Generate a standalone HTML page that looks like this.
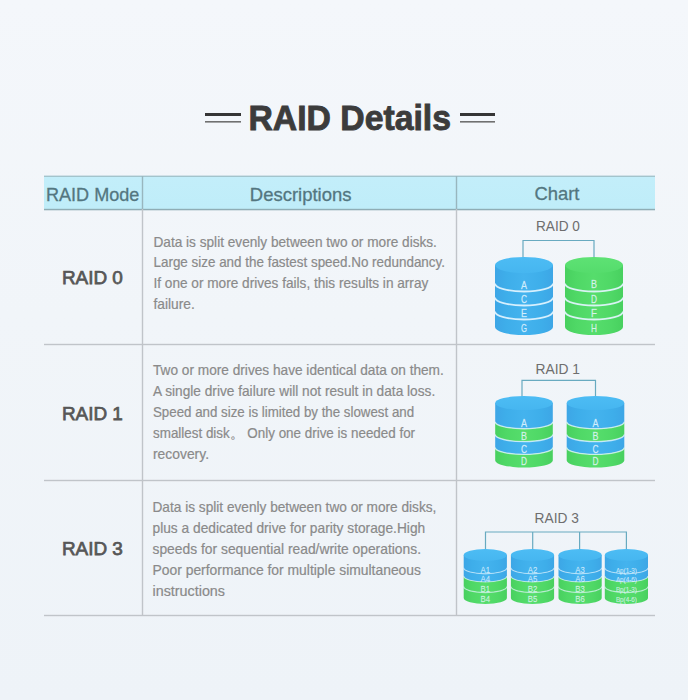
<!DOCTYPE html>
<html><head><meta charset="utf-8"><style>
html,body{margin:0;padding:0;width:700px;height:700px;overflow:hidden;background:#f1f5f9}
svg{display:block;font-family:"Liberation Sans", sans-serif}
</style></head><body>
<svg width="700" height="700" viewBox="0 0 700 700"><defs><linearGradient id="bg" x1="0" y1="0" x2="0" y2="1"><stop offset="0" stop-color="#f4f7fb"/><stop offset="0.45" stop-color="#f1f5f9"/><stop offset="1" stop-color="#eef3f8"/></linearGradient><linearGradient id="hdr" x1="0" y1="0" x2="0" y2="1"><stop offset="0" stop-color="#c3eefa"/><stop offset="1" stop-color="#bfedf9"/></linearGradient><linearGradient id="blueSide" x1="0" y1="0" x2="1" y2="0"><stop offset="0" stop-color="#3da6e6"/><stop offset="0.2" stop-color="#3eaeea"/><stop offset="0.5" stop-color="#44b3ee"/><stop offset="0.8" stop-color="#3eaeea"/><stop offset="1" stop-color="#3da6e6"/></linearGradient><linearGradient id="greenSide" x1="0" y1="0" x2="1" y2="0"><stop offset="0" stop-color="#48d05f"/><stop offset="0.2" stop-color="#4fd866"/><stop offset="0.5" stop-color="#56dd6c"/><stop offset="0.8" stop-color="#4fd866"/><stop offset="1" stop-color="#48d05f"/></linearGradient><linearGradient id="blueTop" x1="0" y1="0" x2="0" y2="1"><stop offset="0" stop-color="#4dbcf4"/><stop offset="1" stop-color="#46b6f0"/></linearGradient><linearGradient id="greenTop" x1="0" y1="0" x2="0" y2="1"><stop offset="0" stop-color="#5ee274"/><stop offset="1" stop-color="#55dc6c"/></linearGradient></defs><rect x="0" y="0" width="700" height="700" fill="url(#bg)"/><rect x="688" y="0" width="12" height="700" fill="#ffffff"/><rect x="205" y="113" width="36" height="3" fill="#363636"/><rect x="205" y="121" width="36" height="1.6" fill="#707070"/><rect x="460" y="113" width="35" height="3" fill="#363636"/><rect x="460" y="121" width="35" height="1.6" fill="#707070"/><text x="248.5" y="129.6" font-size="35" fill="#3c3c3c" font-weight="bold" text-anchor="start" textLength="202.5" lengthAdjust="spacingAndGlyphs" stroke="#3c3c3c" stroke-width="0.9">RAID Details</text><rect x="44" y="176" width="611" height="34" fill="url(#hdr)"/><rect x="44" y="175.6" width="611" height="1.4" fill="#a3c4cc"/><rect x="44" y="208.8" width="611" height="1.5" fill="#8fadb5"/><text x="46" y="200.7" font-size="19" fill="#537680" font-weight="normal" text-anchor="start" textLength="93.4" lengthAdjust="spacingAndGlyphs" stroke="#537680" stroke-width="0.3">RAID Mode</text><text x="249.8" y="200.6" font-size="19" fill="#537680" font-weight="normal" text-anchor="start" textLength="101.7" lengthAdjust="spacingAndGlyphs" stroke="#537680" stroke-width="0.3">Descriptions</text><text x="534.4" y="199.8" font-size="19" fill="#537680" font-weight="normal" text-anchor="start" textLength="45" lengthAdjust="spacingAndGlyphs" stroke="#537680" stroke-width="0.3">Chart</text><rect x="141.8" y="209" width="1.4" height="407" fill="#c0c4c9"/><rect x="455.8" y="209" width="1.4" height="407" fill="#c0c4c9"/><rect x="141.8" y="176" width="1.4" height="33" fill="#98b6be"/><rect x="455.8" y="176" width="1.4" height="33" fill="#98b6be"/><rect x="44" y="343.8" width="611" height="1.4" fill="#c0c4c9"/><rect x="44" y="479.8" width="611" height="1.4" fill="#c0c4c9"/><rect x="44" y="614.8" width="611" height="1.4" fill="#c0c4c9"/><text x="61.9" y="284.40000000000003" font-size="19.2" fill="#575757" font-weight="normal" text-anchor="start" textLength="61" lengthAdjust="spacingAndGlyphs" stroke="#575757" stroke-width="0.75">RAID 0</text><text x="61.9" y="419.6" font-size="19.2" fill="#575757" font-weight="normal" text-anchor="start" textLength="61" lengthAdjust="spacingAndGlyphs" stroke="#575757" stroke-width="0.75">RAID 1</text><text x="61.9" y="554.5999999999999" font-size="19.2" fill="#575757" font-weight="normal" text-anchor="start" textLength="61" lengthAdjust="spacingAndGlyphs" stroke="#575757" stroke-width="0.75">RAID 3</text><text x="153.5" y="246.7" font-size="14.5" fill="#8a8a8a" font-weight="normal" text-anchor="start" textLength="283.4" lengthAdjust="spacingAndGlyphs" stroke="#8a8a8a" stroke-width="0.2">Data is split evenly between two or more disks.</text><text x="153.5" y="267.3" font-size="14.5" fill="#8a8a8a" font-weight="normal" text-anchor="start" textLength="291.5" lengthAdjust="spacingAndGlyphs" stroke="#8a8a8a" stroke-width="0.2">Large size and the fastest speed.No redundancy.</text><text x="153.5" y="287.9" font-size="14.5" fill="#8a8a8a" font-weight="normal" text-anchor="start" textLength="274.8" lengthAdjust="spacingAndGlyphs" stroke="#8a8a8a" stroke-width="0.2">If one or more drives fails, this results in array</text><text x="153.5" y="309.1" font-size="14.5" fill="#8a8a8a" font-weight="normal" text-anchor="start" textLength="41.3" lengthAdjust="spacingAndGlyphs" stroke="#8a8a8a" stroke-width="0.2">failure.</text><text x="153" y="375.1" font-size="14.5" fill="#8a8a8a" font-weight="normal" text-anchor="start" textLength="290.8" lengthAdjust="spacingAndGlyphs" stroke="#8a8a8a" stroke-width="0.2">Two or more drives have identical data on them.</text><text x="153" y="396.1" font-size="14.5" fill="#8a8a8a" font-weight="normal" text-anchor="start" textLength="282.2" lengthAdjust="spacingAndGlyphs" stroke="#8a8a8a" stroke-width="0.2">A single drive failure will not result in data loss.</text><text x="153" y="417.2" font-size="14.5" fill="#8a8a8a" font-weight="normal" text-anchor="start" textLength="261.1" lengthAdjust="spacingAndGlyphs" stroke="#8a8a8a" stroke-width="0.2">Speed and size is limited by the slowest and</text><text x="153" y="437.7" font-size="14.5" fill="#8a8a8a" font-weight="normal" text-anchor="start" textLength="262.1" lengthAdjust="spacingAndGlyphs" stroke="#8a8a8a" stroke-width="0.2">smallest disk。 Only one drive is needed for</text><text x="153" y="459.0" font-size="14.5" fill="#8a8a8a" font-weight="normal" text-anchor="start" textLength="56" lengthAdjust="spacingAndGlyphs" stroke="#8a8a8a" stroke-width="0.2">recovery.</text><text x="152.5" y="512.4" font-size="14.5" fill="#8a8a8a" font-weight="normal" text-anchor="start" textLength="283.9" lengthAdjust="spacingAndGlyphs" stroke="#8a8a8a" stroke-width="0.2">Data is split evenly between two or more disks,</text><text x="152.5" y="533.0" font-size="14.5" fill="#8a8a8a" font-weight="normal" text-anchor="start" textLength="272.7" lengthAdjust="spacingAndGlyphs" stroke="#8a8a8a" stroke-width="0.2">plus a dedicated drive for parity storage.High</text><text x="152.5" y="553.5" font-size="14.5" fill="#8a8a8a" font-weight="normal" text-anchor="start" textLength="268.5" lengthAdjust="spacingAndGlyphs" stroke="#8a8a8a" stroke-width="0.2">speeds for sequential read/write operations.</text><text x="152.5" y="574.6" font-size="14.5" fill="#8a8a8a" font-weight="normal" text-anchor="start" textLength="268.5" lengthAdjust="spacingAndGlyphs" stroke="#8a8a8a" stroke-width="0.2">Poor performance for multiple simultaneous</text><text x="152.5" y="595.6" font-size="14.5" fill="#8a8a8a" font-weight="normal" text-anchor="start" textLength="72.5" lengthAdjust="spacingAndGlyphs" stroke="#8a8a8a" stroke-width="0.2">instructions</text><text x="536" y="231.3" font-size="14.5" fill="#6e6e6e" font-weight="normal" text-anchor="start" textLength="43.9" lengthAdjust="spacingAndGlyphs">RAID 0</text><text x="535.5" y="374" font-size="14.5" fill="#6e6e6e" font-weight="normal" text-anchor="start" textLength="44.5" lengthAdjust="spacingAndGlyphs">RAID 1</text><text x="534.6" y="522.9" font-size="14.5" fill="#6e6e6e" font-weight="normal" text-anchor="start" textLength="44.3" lengthAdjust="spacingAndGlyphs">RAID 3</text><path d="M523 262 V240.5 H594 V262" fill="none" stroke="#68aac0" stroke-width="1.2"/><path d="M495 265 L495 283.5 A29 8 0 0 0 553 283.5 L553 265 Z" fill="url(#blueSide)"/><path d="M495 283.5 A29 8 0 0 0 553 283.5 L553 297.5 A29 8 0 0 1 495 297.5 Z" fill="url(#blueSide)"/><path d="M495 297.5 A29 8 0 0 0 553 297.5 L553 311.5 A29 8 0 0 1 495 311.5 Z" fill="url(#blueSide)"/><path d="M495 311.5 A29 8 0 0 0 553 311.5 L553 327 A29 8 0 0 1 495 327 Z" fill="url(#blueSide)"/><ellipse cx="524" cy="265" rx="29" ry="8" fill="url(#blueTop)"/><path d="M495 283.5 A29 8 0 0 0 553 283.5" fill="none" stroke="#e3f5ff" stroke-opacity="0.9" stroke-width="1.8"/><path d="M495 297.5 A29 8 0 0 0 553 297.5" fill="none" stroke="#e3f5ff" stroke-opacity="0.9" stroke-width="1.8"/><path d="M495 311.5 A29 8 0 0 0 553 311.5" fill="none" stroke="#e3f5ff" stroke-opacity="0.9" stroke-width="1.8"/><text x="524" y="288.5" font-size="11" fill="#e6f6ff" fill-opacity="0.85" stroke="#e6f6ff" stroke-opacity="0.51" stroke-width="0.33" text-anchor="middle" textLength="6" lengthAdjust="spacingAndGlyphs">A</text><text x="524" y="303" font-size="11" fill="#e6f6ff" fill-opacity="0.85" stroke="#e6f6ff" stroke-opacity="0.51" stroke-width="0.33" text-anchor="middle" textLength="6" lengthAdjust="spacingAndGlyphs">C</text><text x="524" y="317" font-size="11" fill="#e6f6ff" fill-opacity="0.85" stroke="#e6f6ff" stroke-opacity="0.51" stroke-width="0.33" text-anchor="middle" textLength="6" lengthAdjust="spacingAndGlyphs">E</text><text x="524" y="331.5" font-size="11" fill="#e6f6ff" fill-opacity="0.85" stroke="#e6f6ff" stroke-opacity="0.51" stroke-width="0.33" text-anchor="middle" textLength="6" lengthAdjust="spacingAndGlyphs">G</text><path d="M565 265 L565 283.5 A29 8 0 0 0 623 283.5 L623 265 Z" fill="url(#greenSide)"/><path d="M565 283.5 A29 8 0 0 0 623 283.5 L623 297.5 A29 8 0 0 1 565 297.5 Z" fill="url(#greenSide)"/><path d="M565 297.5 A29 8 0 0 0 623 297.5 L623 311.5 A29 8 0 0 1 565 311.5 Z" fill="url(#greenSide)"/><path d="M565 311.5 A29 8 0 0 0 623 311.5 L623 327 A29 8 0 0 1 565 327 Z" fill="url(#greenSide)"/><ellipse cx="594" cy="265" rx="29" ry="8" fill="url(#greenTop)"/><path d="M565 283.5 A29 8 0 0 0 623 283.5" fill="none" stroke="#e3f5ff" stroke-opacity="0.9" stroke-width="1.8"/><path d="M565 297.5 A29 8 0 0 0 623 297.5" fill="none" stroke="#e3f5ff" stroke-opacity="0.9" stroke-width="1.8"/><path d="M565 311.5 A29 8 0 0 0 623 311.5" fill="none" stroke="#e3f5ff" stroke-opacity="0.9" stroke-width="1.8"/><text x="594" y="288" font-size="11" fill="#e6f6ff" fill-opacity="0.85" stroke="#e6f6ff" stroke-opacity="0.51" stroke-width="0.33" text-anchor="middle" textLength="6" lengthAdjust="spacingAndGlyphs">B</text><text x="594" y="303" font-size="11" fill="#e6f6ff" fill-opacity="0.85" stroke="#e6f6ff" stroke-opacity="0.51" stroke-width="0.33" text-anchor="middle" textLength="6" lengthAdjust="spacingAndGlyphs">D</text><text x="594" y="317" font-size="11" fill="#e6f6ff" fill-opacity="0.85" stroke="#e6f6ff" stroke-opacity="0.51" stroke-width="0.33" text-anchor="middle" textLength="6" lengthAdjust="spacingAndGlyphs">F</text><text x="594" y="331.5" font-size="11" fill="#e6f6ff" fill-opacity="0.85" stroke="#e6f6ff" stroke-opacity="0.51" stroke-width="0.33" text-anchor="middle" textLength="6" lengthAdjust="spacingAndGlyphs">H</text><path d="M522 400 V380.4 H595.5 V400" fill="none" stroke="#68aac0" stroke-width="1.2"/><path d="M495.2 403 L495.2 421.7 A28.8 7 0 0 0 552.8 421.7 L552.8 403 Z" fill="url(#blueSide)"/><path d="M495.2 421.7 A28.8 7 0 0 0 552.8 421.7 L552.8 434.6 A28.8 7 0 0 1 495.2 434.6 Z" fill="url(#greenSide)"/><path d="M495.2 434.6 A28.8 7 0 0 0 552.8 434.6 L552.8 447.4 A28.8 7 0 0 1 495.2 447.4 Z" fill="url(#blueSide)"/><path d="M495.2 447.4 A28.8 7 0 0 0 552.8 447.4 L552.8 460.5 A28.8 7 0 0 1 495.2 460.5 Z" fill="url(#greenSide)"/><ellipse cx="524" cy="403" rx="28.8" ry="7" fill="url(#blueTop)"/><path d="M495.2 421.7 A28.8 7 0 0 0 552.8 421.7" fill="none" stroke="#e3f5ff" stroke-opacity="0.75" stroke-width="1.4"/><path d="M495.2 434.6 A28.8 7 0 0 0 552.8 434.6" fill="none" stroke="#e3f5ff" stroke-opacity="0.75" stroke-width="1.4"/><path d="M495.2 447.4 A28.8 7 0 0 0 552.8 447.4" fill="none" stroke="#e3f5ff" stroke-opacity="0.75" stroke-width="1.4"/><text x="524" y="427.4" font-size="11" fill="#e6f6ff" fill-opacity="0.85" stroke="#e6f6ff" stroke-opacity="0.51" stroke-width="0.33" text-anchor="middle" textLength="6" lengthAdjust="spacingAndGlyphs">A</text><text x="524" y="440" font-size="11" fill="#e6f6ff" fill-opacity="0.85" stroke="#e6f6ff" stroke-opacity="0.51" stroke-width="0.33" text-anchor="middle" textLength="6" lengthAdjust="spacingAndGlyphs">B</text><text x="524" y="452.5" font-size="11" fill="#e6f6ff" fill-opacity="0.85" stroke="#e6f6ff" stroke-opacity="0.51" stroke-width="0.33" text-anchor="middle" textLength="6" lengthAdjust="spacingAndGlyphs">C</text><text x="524" y="465.3" font-size="11" fill="#e6f6ff" fill-opacity="0.85" stroke="#e6f6ff" stroke-opacity="0.51" stroke-width="0.33" text-anchor="middle" textLength="6" lengthAdjust="spacingAndGlyphs">D</text><path d="M566.7 403 L566.7 421.7 A28.8 7 0 0 0 624.3 421.7 L624.3 403 Z" fill="url(#blueSide)"/><path d="M566.7 421.7 A28.8 7 0 0 0 624.3 421.7 L624.3 434.6 A28.8 7 0 0 1 566.7 434.6 Z" fill="url(#greenSide)"/><path d="M566.7 434.6 A28.8 7 0 0 0 624.3 434.6 L624.3 447.4 A28.8 7 0 0 1 566.7 447.4 Z" fill="url(#blueSide)"/><path d="M566.7 447.4 A28.8 7 0 0 0 624.3 447.4 L624.3 460.5 A28.8 7 0 0 1 566.7 460.5 Z" fill="url(#greenSide)"/><ellipse cx="595.5" cy="403" rx="28.8" ry="7" fill="url(#blueTop)"/><path d="M566.7 421.7 A28.8 7 0 0 0 624.3 421.7" fill="none" stroke="#e3f5ff" stroke-opacity="0.75" stroke-width="1.4"/><path d="M566.7 434.6 A28.8 7 0 0 0 624.3 434.6" fill="none" stroke="#e3f5ff" stroke-opacity="0.75" stroke-width="1.4"/><path d="M566.7 447.4 A28.8 7 0 0 0 624.3 447.4" fill="none" stroke="#e3f5ff" stroke-opacity="0.75" stroke-width="1.4"/><text x="595.5" y="427.4" font-size="11" fill="#e6f6ff" fill-opacity="0.85" stroke="#e6f6ff" stroke-opacity="0.51" stroke-width="0.33" text-anchor="middle" textLength="6" lengthAdjust="spacingAndGlyphs">A</text><text x="595.5" y="440" font-size="11" fill="#e6f6ff" fill-opacity="0.85" stroke="#e6f6ff" stroke-opacity="0.51" stroke-width="0.33" text-anchor="middle" textLength="6" lengthAdjust="spacingAndGlyphs">B</text><text x="595.5" y="452.5" font-size="11" fill="#e6f6ff" fill-opacity="0.85" stroke="#e6f6ff" stroke-opacity="0.51" stroke-width="0.33" text-anchor="middle" textLength="6" lengthAdjust="spacingAndGlyphs">C</text><text x="595.5" y="465.3" font-size="11" fill="#e6f6ff" fill-opacity="0.85" stroke="#e6f6ff" stroke-opacity="0.51" stroke-width="0.33" text-anchor="middle" textLength="6" lengthAdjust="spacingAndGlyphs">D</text><path d="M485.5 552 V532 H626.4 V552" fill="none" stroke="#68aac0" stroke-width="1.2"/><path d="M532.7 532 V552" fill="none" stroke="#68aac0" stroke-width="1.2"/><path d="M579.6 532 V552" fill="none" stroke="#68aac0" stroke-width="1.2"/><path d="M463.7 555 L463.7 567.8 A21.6 6 0 0 0 506.9 567.8 L506.9 555 Z" fill="url(#blueSide)"/><path d="M463.7 567.8 A21.6 6 0 0 0 506.9 567.8 L506.9 576 A21.6 6 0 0 1 463.7 576 Z" fill="url(#blueSide)"/><path d="M463.7 576 A21.6 6 0 0 0 506.9 576 L506.9 586.6 A21.6 6 0 0 1 463.7 586.6 Z" fill="url(#greenSide)"/><path d="M463.7 586.6 A21.6 6 0 0 0 506.9 586.6 L506.9 598 A21.6 6 0 0 1 463.7 598 Z" fill="url(#greenSide)"/><ellipse cx="485.3" cy="555" rx="21.6" ry="6" fill="url(#blueTop)"/><path d="M463.7 567.8 A21.6 6 0 0 0 506.9 567.8" fill="none" stroke="#e3f5ff" stroke-opacity="0.6" stroke-width="1.2"/><path d="M463.7 576 A21.6 6 0 0 0 506.9 576" fill="none" stroke="#e3f5ff" stroke-opacity="0.6" stroke-width="1.2"/><path d="M463.7 586.6 A21.6 6 0 0 0 506.9 586.6" fill="none" stroke="#e3f5ff" stroke-opacity="0.6" stroke-width="1.2"/><text x="485.3" y="572.5" font-size="9" fill="#e6f6ff" fill-opacity="0.75" stroke="#e6f6ff" stroke-opacity="0.45" stroke-width="0.27" text-anchor="middle" textLength="9.5" lengthAdjust="spacingAndGlyphs">A1</text><text x="485.3" y="582" font-size="9" fill="#e6f6ff" fill-opacity="0.75" stroke="#e6f6ff" stroke-opacity="0.45" stroke-width="0.27" text-anchor="middle" textLength="9.5" lengthAdjust="spacingAndGlyphs">A4</text><text x="485.3" y="591.8" font-size="9" fill="#e6f6ff" fill-opacity="0.75" stroke="#e6f6ff" stroke-opacity="0.45" stroke-width="0.27" text-anchor="middle" textLength="9.5" lengthAdjust="spacingAndGlyphs">B1</text><text x="485.3" y="602" font-size="9" fill="#e6f6ff" fill-opacity="0.75" stroke="#e6f6ff" stroke-opacity="0.45" stroke-width="0.27" text-anchor="middle" textLength="9.5" lengthAdjust="spacingAndGlyphs">B4</text><path d="M510.9 555 L510.9 567.8 A21.6 6 0 0 0 554.1 567.8 L554.1 555 Z" fill="url(#blueSide)"/><path d="M510.9 567.8 A21.6 6 0 0 0 554.1 567.8 L554.1 576 A21.6 6 0 0 1 510.9 576 Z" fill="url(#blueSide)"/><path d="M510.9 576 A21.6 6 0 0 0 554.1 576 L554.1 586.6 A21.6 6 0 0 1 510.9 586.6 Z" fill="url(#greenSide)"/><path d="M510.9 586.6 A21.6 6 0 0 0 554.1 586.6 L554.1 598 A21.6 6 0 0 1 510.9 598 Z" fill="url(#greenSide)"/><ellipse cx="532.5" cy="555" rx="21.6" ry="6" fill="url(#blueTop)"/><path d="M510.9 567.8 A21.6 6 0 0 0 554.1 567.8" fill="none" stroke="#e3f5ff" stroke-opacity="0.6" stroke-width="1.2"/><path d="M510.9 576 A21.6 6 0 0 0 554.1 576" fill="none" stroke="#e3f5ff" stroke-opacity="0.6" stroke-width="1.2"/><path d="M510.9 586.6 A21.6 6 0 0 0 554.1 586.6" fill="none" stroke="#e3f5ff" stroke-opacity="0.6" stroke-width="1.2"/><text x="532.5" y="572.5" font-size="9" fill="#e6f6ff" fill-opacity="0.75" stroke="#e6f6ff" stroke-opacity="0.45" stroke-width="0.27" text-anchor="middle" textLength="9.5" lengthAdjust="spacingAndGlyphs">A2</text><text x="532.5" y="582" font-size="9" fill="#e6f6ff" fill-opacity="0.75" stroke="#e6f6ff" stroke-opacity="0.45" stroke-width="0.27" text-anchor="middle" textLength="9.5" lengthAdjust="spacingAndGlyphs">A5</text><text x="532.5" y="591.8" font-size="9" fill="#e6f6ff" fill-opacity="0.75" stroke="#e6f6ff" stroke-opacity="0.45" stroke-width="0.27" text-anchor="middle" textLength="9.5" lengthAdjust="spacingAndGlyphs">B2</text><text x="532.5" y="602" font-size="9" fill="#e6f6ff" fill-opacity="0.75" stroke="#e6f6ff" stroke-opacity="0.45" stroke-width="0.27" text-anchor="middle" textLength="9.5" lengthAdjust="spacingAndGlyphs">B5</text><path d="M558.5 555 L558.5 567.8 A21.6 6 0 0 0 601.7 567.8 L601.7 555 Z" fill="url(#blueSide)"/><path d="M558.5 567.8 A21.6 6 0 0 0 601.7 567.8 L601.7 576 A21.6 6 0 0 1 558.5 576 Z" fill="url(#blueSide)"/><path d="M558.5 576 A21.6 6 0 0 0 601.7 576 L601.7 586.6 A21.6 6 0 0 1 558.5 586.6 Z" fill="url(#greenSide)"/><path d="M558.5 586.6 A21.6 6 0 0 0 601.7 586.6 L601.7 598 A21.6 6 0 0 1 558.5 598 Z" fill="url(#greenSide)"/><ellipse cx="580.1" cy="555" rx="21.6" ry="6" fill="url(#blueTop)"/><path d="M558.5 567.8 A21.6 6 0 0 0 601.7 567.8" fill="none" stroke="#e3f5ff" stroke-opacity="0.6" stroke-width="1.2"/><path d="M558.5 576 A21.6 6 0 0 0 601.7 576" fill="none" stroke="#e3f5ff" stroke-opacity="0.6" stroke-width="1.2"/><path d="M558.5 586.6 A21.6 6 0 0 0 601.7 586.6" fill="none" stroke="#e3f5ff" stroke-opacity="0.6" stroke-width="1.2"/><text x="580.1" y="572.5" font-size="9" fill="#e6f6ff" fill-opacity="0.75" stroke="#e6f6ff" stroke-opacity="0.45" stroke-width="0.27" text-anchor="middle" textLength="9.5" lengthAdjust="spacingAndGlyphs">A3</text><text x="580.1" y="582" font-size="9" fill="#e6f6ff" fill-opacity="0.75" stroke="#e6f6ff" stroke-opacity="0.45" stroke-width="0.27" text-anchor="middle" textLength="9.5" lengthAdjust="spacingAndGlyphs">A6</text><text x="580.1" y="591.8" font-size="9" fill="#e6f6ff" fill-opacity="0.75" stroke="#e6f6ff" stroke-opacity="0.45" stroke-width="0.27" text-anchor="middle" textLength="9.5" lengthAdjust="spacingAndGlyphs">B3</text><text x="580.1" y="602" font-size="9" fill="#e6f6ff" fill-opacity="0.75" stroke="#e6f6ff" stroke-opacity="0.45" stroke-width="0.27" text-anchor="middle" textLength="9.5" lengthAdjust="spacingAndGlyphs">B6</text><path d="M604.8 555 L604.8 567.8 A21.6 6 0 0 0 648.0 567.8 L648.0 555 Z" fill="url(#blueSide)"/><path d="M604.8 567.8 A21.6 6 0 0 0 648.0 567.8 L648.0 576 A21.6 6 0 0 1 604.8 576 Z" fill="url(#blueSide)"/><path d="M604.8 576 A21.6 6 0 0 0 648.0 576 L648.0 586.6 A21.6 6 0 0 1 604.8 586.6 Z" fill="url(#greenSide)"/><path d="M604.8 586.6 A21.6 6 0 0 0 648.0 586.6 L648.0 598 A21.6 6 0 0 1 604.8 598 Z" fill="url(#greenSide)"/><ellipse cx="626.4" cy="555" rx="21.6" ry="6" fill="url(#blueTop)"/><path d="M604.8 567.8 A21.6 6 0 0 0 648.0 567.8" fill="none" stroke="#e3f5ff" stroke-opacity="0.6" stroke-width="1.2"/><path d="M604.8 576 A21.6 6 0 0 0 648.0 576" fill="none" stroke="#e3f5ff" stroke-opacity="0.6" stroke-width="1.2"/><path d="M604.8 586.6 A21.6 6 0 0 0 648.0 586.6" fill="none" stroke="#e3f5ff" stroke-opacity="0.6" stroke-width="1.2"/><text x="626.4" y="572.5" font-size="6.5" fill="#e6f6ff" fill-opacity="0.75" stroke="#e6f6ff" stroke-opacity="0.45" stroke-width="0.20" text-anchor="middle" textLength="21" lengthAdjust="spacingAndGlyphs">Ap(1-3)</text><text x="626.4" y="582" font-size="6.5" fill="#e6f6ff" fill-opacity="0.75" stroke="#e6f6ff" stroke-opacity="0.45" stroke-width="0.20" text-anchor="middle" textLength="21" lengthAdjust="spacingAndGlyphs">Ap(4-6)</text><text x="626.4" y="591.8" font-size="6.5" fill="#e6f6ff" fill-opacity="0.75" stroke="#e6f6ff" stroke-opacity="0.45" stroke-width="0.20" text-anchor="middle" textLength="21" lengthAdjust="spacingAndGlyphs">Bp(1-3)</text><text x="626.4" y="602" font-size="6.5" fill="#e6f6ff" fill-opacity="0.75" stroke="#e6f6ff" stroke-opacity="0.45" stroke-width="0.20" text-anchor="middle" textLength="21" lengthAdjust="spacingAndGlyphs">Bp(4-6)</text></svg>
</body></html>
